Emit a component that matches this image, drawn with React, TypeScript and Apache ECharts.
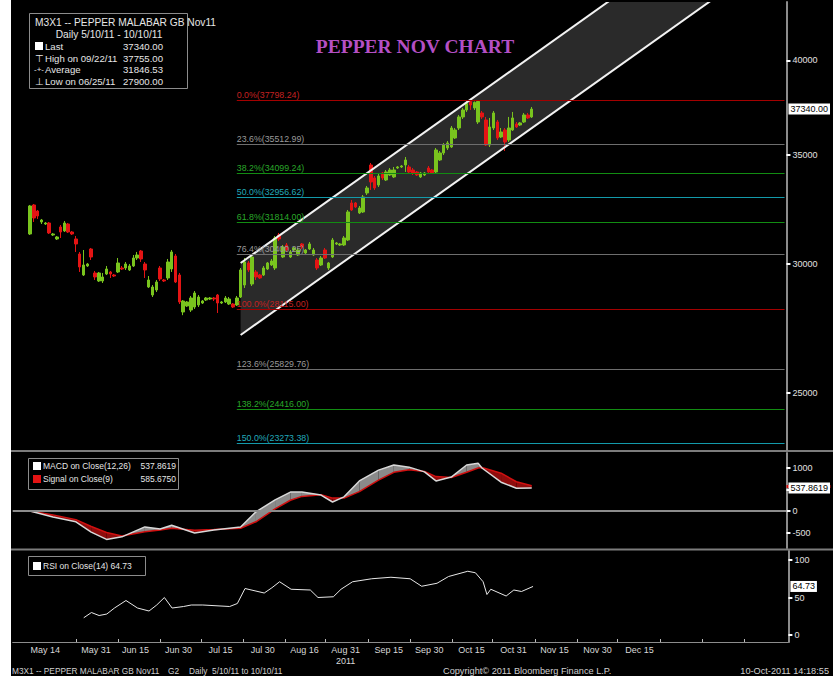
import React, { useEffect, useRef } from 'react';
import * as echarts from 'echarts';

// ---------- categories (Mon-Sat trading days) ----------
const AXIS_START_DATE = '2011-05-05';
const AXIS_DAY_COUNT = 202;
const FIRST_TRADE_DATE = '2011-05-10';

// ---------- OHLC data, 2011-05-10 .. 2011-10-10 ----------
const opens = [
  31294, 32605, 32329, 31830, 31740, 31785, 31250, 31074, 31606, 31428,
  31740, 31383, 31074, 30421, 29531, 29910, 30637, 29615, 29282, 29282,
  29573, 29657, 29531, 29657, 29825, 29825, 29741, 29910, 30250, 30551,
  29994, 29034, 28707, 28911, 29825, 29323, 29406, 29783, 30335, 29531,
  28026, 28264, 28105, 28224, 28304, 28384, 28505, 28545, 28586, 28707,
  28384, 28425, 28344, 28344, 28304, 28626, 29116, 30037, 29157, 29657,
  29531, 29531, 29783, 29952, 29825, 31250, 30292, 30811, 30292, 30594,
  30378, 30855, 30464, 30637, 30378, 30164, 29952, 30594, 29825, 30292,
  30855, 30811, 30811, 31030, 32698, 32698, 32238, 32284, 33163, 34502,
  33874, 33540, 34114, 33778, 34018, 33922, 34356, 34405, 34502, 34405,
  34259, 34163, 33922, 34018, 34356, 34259, 34163, 34747, 35093, 35342,
  35392, 35846, 36356, 36927, 37294, 37745, 37400, 36666, 37136, 36770,
  35492, 36356, 36666, 35896, 36253, 35744, 36253, 36563, 36511, 36666,
  37031, 36927,
];
const closes = [
  32559, 32011, 32102, 31920, 31785, 31339, 31294, 31162, 31383, 31785,
  31383, 31294, 30855, 29868, 29952, 29994, 30292, 29448, 29615, 29448,
  29783, 29573, 29489, 30037, 29783, 29994, 29910, 30250, 30378, 30207,
  29741, 29323, 29034, 29240, 29365, 29282, 30079, 30508, 29240, 28425,
  28465, 28425, 28586, 28789, 28626, 28465, 28586, 28586, 28545, 28384,
  28425, 28586, 28545, 28224, 28586, 29741, 30079, 29741, 30292, 29448,
  29406, 29825, 30037, 30122, 31118, 31074, 30724, 30594, 30508, 30681,
  30594, 30724, 30594, 30855, 30594, 29825, 30250, 30250, 30037, 31030,
  30899, 30855, 31118, 32284, 32375, 32513, 32467, 32976, 33398, 33683,
  33398, 33970, 33874, 34163, 34259, 34259, 34405, 34453, 34747, 34163,
  34114, 34018, 34114, 34114, 34163, 34114, 35242, 35093, 35492, 35593,
  36356, 36253, 36927, 37294, 37638, 37558, 37691, 37745, 36927, 35492,
  36408, 37136, 35846, 36151, 35643, 36356, 36875, 36408, 36615, 37031,
  36875, 37340,
];
const lows = [
  31250, 31830, 31966, 31740, 31695, 31294, 31206, 31030, 31118, 31383,
  31339, 31250, 30508, 29657, 29489, 29868, 30164, 29323, 29240, 29199,
  29531, 29406, 29448, 29615, 29741, 29741, 29699, 29868, 30164, 30079,
  29406, 28993, 28626, 28829, 29282, 29240, 29323, 29657, 29199, 28344,
  27900, 28224, 28026, 28145, 28224, 28344, 28465, 28505, 28465, 27986,
  28344, 28384, 28304, 28184, 28264, 28586, 28993, 29657, 29075, 29323,
  29365, 29489, 29741, 29910, 29741, 30986, 30250, 30508, 30250, 30551,
  30335, 30637, 30421, 30594, 30335, 29741, 29910, 30207, 29741, 30250,
  30811, 30768, 30768, 30986, 32329, 32467, 32193, 32238, 33069, 33304,
  33304, 33446, 33778, 33730, 33970, 33874, 34308, 34356, 34163, 34066,
  34018, 33970, 33874, 33970, 34114, 34066, 34066, 34698, 34994, 35242,
  35342, 35795, 36253, 36822, 37189, 37294, 37294, 36563, 36822, 35442,
  35392, 36253, 35744, 35846, 35192, 35643, 36202, 36356, 36459, 36615,
  36822, 36875,
];
const highs = [
  32605, 32650, 32375, 31966, 31830, 31830, 31339, 31206, 31695, 31875,
  31785, 31428, 31206, 30508, 30594, 30037, 30681, 29699, 29657, 29615,
  29910, 29699, 29573, 30250, 29910, 30079, 29994, 30378, 30508, 30594,
  30079, 29489, 29116, 29323, 29910, 29365, 30207, 30594, 30421, 29615,
  28505, 28465, 28667, 28870, 28707, 28505, 28626, 28626, 28626, 28748,
  28465, 28667, 28626, 28384, 28667, 29825, 30250, 30122, 30378, 29741,
  29573, 29910, 30079, 30207, 31206, 31339, 30811, 30899, 30594, 30724,
  30681, 30899, 30637, 30943, 30681, 30250, 30335, 30681, 30079, 31118,
  30943, 30899, 31206, 32375, 32836, 32744, 32559, 33069, 33493, 34600,
  33970, 34066, 34163, 34259, 34356, 34405, 34453, 34502, 34895, 34502,
  34356, 34211, 34163, 34163, 34453, 34308, 35342, 35192, 35593, 35694,
  36459, 36356, 37031, 37400, 37745, 37755, 37745, 37750, 37241, 36927,
  36875, 37241, 36770, 36356, 36356, 36927, 37189, 36666, 36666, 37136,
  37136, 37452,
];

// ---------- Fibonacci retracement ----------
const fibPercents = ['0.0%', '23.6%', '38.2%', '50.0%', '61.8%', '76.4%', '100.0%', '123.6%', '138.2%', '150.0%'];
const fibValues = [37798.24, 35512.99, 34099.24, 32956.62, 31814.0, 30400.25, 28115.0, 25829.76, 24416.0, 23273.38];
const FIB_START_DATE = '2011-07-12';

// ---------- trend channel (prices at its start date and at the axis end) ----------
const CHANNEL_START_DATE = '2011-07-13';
const channelUpper = [30037, 51895];
const channelLower = [27130, 46871];

// ---------- MACD (trading-day number from 2011-05-10) ----------
const macdDays = [0, 6, 12, 16, 20, 24, 30, 34, 37, 43, 48, 55, 59, 64, 68, 71, 76, 79, 82, 86, 91, 95, 99, 103, 106, 110, 114, 117, 118, 123, 127, 131];
const macdValues = [0, -140, -250, -490, -660, -600, -370, -420, -330, -510, -440, -370, -20, 260, 440, 440, 370, 210, 330, 700, 950, 1070, 1020, 910, 700, 790, 1070, 1110, 1000, 670, 530, 537.8619];
const signalValues = [0, -90, -200, -360, -500, -580, -480, -440, -400, -450, -430, -400, -250, 50, 250, 340, 380, 300, 300, 450, 720, 900, 960, 920, 800, 780, 900, 1000, 1010, 880, 680, 585.675];

// ---------- RSI(14) ----------
const rsiDays = [14, 16, 18, 20, 22, 25, 28, 31, 33, 35, 37, 40, 42, 45, 52, 54, 56, 61, 63, 65, 68, 73, 75, 79, 81, 84, 89, 94, 99, 102, 106, 109, 114, 116, 118, 119, 120, 124, 126, 128, 131];
const rsiValues = [23, 30, 26, 28, 36, 46, 36, 32, 40, 50, 36, 38, 40, 40, 38, 42, 62, 56, 63, 71, 61, 60, 50, 51, 61, 71, 75, 77, 75, 65, 69, 78, 85, 83, 71, 54, 61, 52, 60, 58, 64.73];

// ---------- axis labels (positions in trading-day slots of the axis) ----------
const mainTicks = [25000, 30000, 35000, 40000];
const mainRange = [23056, 43447];
const macdTicks = [-500, 0, 500, 1000];
const macdLabels = [-500, 0, 1000];
const macdRange = [-860, 1349];
const rsiTicks = [0, 50, 100];
const rsiRange = [-9.3, 112];
const xLabels = ['May 14', 'May 31', 'Jun 15', 'Jun 30', 'Jul 15', 'Jul 30', 'Aug 16', 'Aug 31', 'Sep 15', 'Sep 30', 'Oct 15', 'Oct 31', 'Nov 15', 'Nov 30', 'Dec 15'];
const xLabelSlots = [8.0, 21.2, 31.5, 42.7, 53.6, 64.6, 75.5, 86.2, 97.4, 108.0, 119.0, 129.9, 140.6, 151.8, 162.7];
const xTickSlots = [16, 27, 38, 48.5, 59.5, 70.5, 81, 92, 103, 114, 124.5, 135.5, 146.5, 157, 168, 179, 190];
const lastPrice = 37340.0;
const lastMacd = 537.8619;
const lastSignal = 585.675;
const lastRsi = 64.73;

function buildTradingDays(start: string, count: number): string[] {
  const out: string[] = [];
  const d = new Date(start + 'T00:00:00Z');
  while (out.length < count) {
    if (d.getUTCDay() !== 0) out.push(d.toISOString().slice(0, 10));
    d.setUTCDate(d.getUTCDate() + 1);
  }
  return out;
}

const FONT = 'Liberation Sans, Arial, sans-serif';
const fibLabelColors = ['#c42020', '#9a9a9a', '#2aa82a', '#22aabb', '#2aa82a', '#9a9a9a', '#c42020', '#9a9a9a', '#2aa82a', '#22aabb'];
const fibLineColors = ['#a40000', '#6e6e6e', '#128c12', '#139aaa', '#128c12', '#6e6e6e', '#a40000', '#6e6e6e', '#128c12', '#139aaa'];

const txt = (x: number, y: number, text: string, size: number, extra: any = {}) => ({
  type: 'text',
  x,
  y,
  silent: true,
  style: { text, fill: '#e6e6e6', font: size + 'px ' + FONT, verticalAlign: 'middle', ...extra },
});

export default function App() {
  const ref = useRef<HTMLDivElement>(null);
  useEffect(() => {
    if (!ref.current) return;
    const chart = echarts.init(ref.current, null, { renderer: 'svg' });
    const cats = buildTradingDays(AXIS_START_DATE, AXIS_DAY_COUNT);
    const off = cats.indexOf(FIRST_TRADE_DATE);
    const L = Math.log;

    const candleData = cats.map((_, c) => {
      const i = c - off;
      if (i < 0 || i >= closes.length) return '-';
      return [L(opens[i]), L(closes[i]), L(lows[i]), L(highs[i])];
    });

    const fibStart = cats.indexOf(FIB_START_DATE);
    const lastCat = cats.length - 1;
    const fibLines = fibValues.map((v, k) => [
      {
        coord: [fibStart, L(v)],
        lineStyle: { color: fibLineColors[k], width: 1, type: 'solid' },
        label: {
          show: true,
          position: 'insideStartTop',
          formatter: fibPercents[k] + '(' + v.toFixed(2) + ')',
          color: fibLabelColors[k],
          fontSize: 8.8,
          fontFamily: FONT,
          distance: [0, 1],
        },
      },
      { coord: [lastCat, L(v)] },
    ]);

    const chS = cats.indexOf(CHANNEL_START_DATE);
    const chE = lastCat;
    const channelData = [[chS, L(channelUpper[0]), L(channelLower[0]), chE, L(channelUpper[1]), L(channelLower[1])]];

    const macdFillData = macdDays.map((d, i) => [off + d, macdValues[i], signalValues[i]]);

    const mainMin = L(mainRange[0]);
    const mainMax = L(mainRange[1]);

    const tagLabel = (bg: string, fg: string) => ({
      backgroundColor: bg,
      color: fg,
      fontSize: 9,
      fontFamily: FONT,
      padding: [1, 2, 1, 2],
      margin: 2,
    });

    const grids = [
      { left: 12.7, right: 44.6, top: 2, height: 448 },
      { left: 12.7, right: 44.6, top: 453, height: 95 },
      { left: 12.7, right: 44.6, top: 551, height: 91 },
    ];

    const catAxis = (g: number) => ({
      type: 'category',
      gridIndex: g,
      data: cats,
      boundaryGap: true,
      axisLine: { show: false, onZero: false },
      axisTick: { show: false },
      axisLabel: { show: false },
      splitLine: { show: false },
    });

    const axisLineStyle = { show: true, onZero: false, lineStyle: { color: '#8c8c8c', width: 2 } };
    const noLine = { show: false, onZero: false };

    const option: any = {
      animation: false,
      backgroundColor: '#000',
      textStyle: { fontFamily: FONT },
      grid: grids,
      xAxis: [
        catAxis(0),
        catAxis(1),
        catAxis(2),
        {
          // label axis in trading-day slot units, aligned with the category axes
          type: 'value',
          gridIndex: 2,
          min: -0.5,
          max: AXIS_DAY_COUNT - 0.5,
          position: 'bottom',
          axisLine: { show: true, onZero: false, lineStyle: { color: '#8c8c8c', width: 1 } },
          axisTick: {
            show: true,
            inside: true,
            length: 3,
            lineStyle: { color: '#bbb' },
            customValues: xTickSlots,
          },
          axisLabel: {
            customValues: xLabelSlots,
            formatter: (v: number) => {
              const k = xLabelSlots.indexOf(v);
              return xLabels[k] + (xLabels[k] === 'Aug 31' ? '\n2011' : '');
            },
            color: '#d8d8d8',
            fontSize: 9,
            lineHeight: 11,
            margin: 2,
          },
          splitLine: { show: false },
        },
      ],
      yAxis: [
        {
          type: 'value', gridIndex: 0, position: 'right', min: mainMin, max: mainMax,
          axisLine: axisLineStyle,
          axisTick: { show: true, length: 4, lineStyle: { color: '#fff', width: 2 }, customValues: mainTicks.map(L) },
          axisLabel: { customValues: mainTicks.map(L), formatter: (v: number) => String(Math.round(Math.exp(v))), color: '#e0e0e0', fontSize: 9, margin: 6 },
          splitLine: { show: false },
        },
        {
          type: 'value', gridIndex: 0, position: 'right', min: mainMin, max: mainMax,
          axisLine: noLine, axisTick: { show: false }, splitLine: { show: false },
          axisLabel: { customValues: [L(lastPrice)], formatter: (v: number) => (Math.round(Math.exp(v) * 100) / 100).toFixed(2), ...tagLabel('#fff', '#000') },
        },
        {
          type: 'value', gridIndex: 1, position: 'right', min: macdRange[0], max: macdRange[1],
          axisLine: axisLineStyle,
          axisTick: { show: true, length: 4, lineStyle: { color: '#fff', width: 2 }, customValues: macdTicks },
          axisLabel: { customValues: macdLabels, formatter: (v: number) => String(v), color: '#e0e0e0', fontSize: 9, margin: 6 },
          splitLine: { show: false },
        },
        {
          // signal tag: only its red edge shows behind the MACD tag
          type: 'value', gridIndex: 1, position: 'right', min: macdRange[0], max: macdRange[1],
          axisLine: noLine, splitLine: { show: false },
          axisTick: { show: true, length: 44, lineStyle: { color: '#d01010', width: 3 }, customValues: [lastSignal] },
          axisLabel: { show: false },
        },
        {
          type: 'value', gridIndex: 1, position: 'right', min: macdRange[0], max: macdRange[1],
          axisLine: noLine, axisTick: { show: false }, splitLine: { show: false },
          axisLabel: { customValues: [lastMacd], formatter: (v: number) => v.toFixed(4), ...tagLabel('#fff', '#000') },
        },
        {
          type: 'value', gridIndex: 2, position: 'right', min: rsiRange[0], max: rsiRange[1],
          axisLine: axisLineStyle,
          axisTick: { show: true, length: 4, lineStyle: { color: '#fff', width: 2 }, customValues: rsiTicks },
          axisLabel: { customValues: rsiTicks, formatter: (v: number) => String(v), color: '#e0e0e0', fontSize: 9, margin: 6 },
          splitLine: { show: false },
        },
        {
          type: 'value', gridIndex: 2, position: 'right', min: rsiRange[0], max: rsiRange[1],
          axisLine: noLine, axisTick: { show: false }, splitLine: { show: false },
          axisLabel: { customValues: [lastRsi], formatter: (v: number) => v.toFixed(2), ...tagLabel('#fff', '#000') },
        },
      ],
      series: [
        {
          type: 'custom', name: 'channelFill', xAxisIndex: 0, yAxisIndex: 0, z: 1, silent: true, clip: true,
          data: channelData,
          renderItem: (_p: any, api: any) => {
            const a = api.coord([api.value(0), api.value(1)]);
            const b = api.coord([api.value(3), api.value(4)]);
            const c = api.coord([api.value(3), api.value(5)]);
            const d = api.coord([api.value(0), api.value(2)]);
            return { type: 'polygon', shape: { points: [a, b, c, d] }, style: { fill: '#2a2a2a' } };
          },
        },
        {
          type: 'custom', name: 'channelLines', xAxisIndex: 0, yAxisIndex: 0, z: 4, silent: true, clip: true,
          data: channelData,
          renderItem: (_p: any, api: any) => {
            const a = api.coord([api.value(0), api.value(1)]);
            const b = api.coord([api.value(3), api.value(4)]);
            const c = api.coord([api.value(3), api.value(5)]);
            const d = api.coord([api.value(0), api.value(2)]);
            const st = { stroke: '#f2f2f2', lineWidth: 2 };
            return {
              type: 'group',
              children: [
                { type: 'line', shape: { x1: a[0], y1: a[1], x2: b[0], y2: b[1] }, style: st },
                { type: 'line', shape: { x1: d[0], y1: d[1], x2: c[0], y2: c[1] }, style: st },
              ],
            };
          },
        },
        {
          type: 'candlestick', name: 'M3X1', xAxisIndex: 0, yAxisIndex: 0, z: 3, silent: true,
          barWidth: 3,
          data: candleData,
          itemStyle: { color: '#79c41e', color0: '#e41414', borderColor: '#79c41e', borderColor0: '#e41414', borderWidth: 1 },
          markLine: { silent: true, symbol: 'none', animation: false, data: fibLines },
        },
        {
          type: 'custom', name: 'macdFill', xAxisIndex: 1, yAxisIndex: 2, z: 1, silent: true,
          data: macdFillData,
          renderItem: (p: any, api: any) => {
            const i = p.dataIndex;
            if (i >= macdFillData.length - 1) return null;
            const [x0, m0, s0] = macdFillData[i];
            const [x1, m1, s1] = macdFillData[i + 1];
            const P = (x: number, v: number) => api.coord([x, v]);
            const col = (d: number) => (d >= 0 ? '#8a8a8a' : '#8e0c0c');
            const d0 = m0 - s0;
            const d1 = m1 - s1;
            if (d0 * d1 >= 0) {
              return { type: 'polygon', shape: { points: [P(x0, m0), P(x1, m1), P(x1, s1), P(x0, s0)] }, style: { fill: col(d0 + d1) } };
            }
            const t = d0 / (d0 - d1);
            const xc = x0 + t * (x1 - x0);
            const vc = m0 + t * (m1 - m0);
            return {
              type: 'group',
              children: [
                { type: 'polygon', shape: { points: [P(x0, m0), P(xc, vc), P(x0, s0)] }, style: { fill: col(d0) } },
                { type: 'polygon', shape: { points: [P(xc, vc), P(x1, m1), P(x1, s1)] }, style: { fill: col(d1) } },
              ],
            };
          },
        },
        {
          type: 'line', name: 'Signal', xAxisIndex: 1, yAxisIndex: 2, z: 2, silent: true, showSymbol: false,
          data: macdDays.map((d, i) => [cats[off + d], signalValues[i]]),
          lineStyle: { color: '#d01010', width: 1.5 },
          markLine: {
            silent: true, symbol: 'none', label: { show: false },
            lineStyle: { color: '#8c8c8c', width: 2, type: 'solid' },
            data: [{ yAxis: 0 }],
          },
        },
        {
          type: 'line', name: 'MACD', xAxisIndex: 1, yAxisIndex: 2, z: 3, silent: true, showSymbol: false,
          data: macdDays.map((d, i) => [cats[off + d], macdValues[i]]),
          lineStyle: { color: '#d8d8d8', width: 1.5 },
        },
        {
          type: 'line', name: 'RSI', xAxisIndex: 2, yAxisIndex: 5, z: 3, silent: true, showSymbol: false,
          data: rsiDays.map((d, i) => [cats[off + d], rsiValues[i]]),
          lineStyle: { color: '#e8e8e8', width: 1 },
        },
      ],
      graphic: [
        { type: 'rect', shape: { x: 0, y: 0, width: 11, height: 676 }, style: { fill: '#fff' }, silent: true },
        { type: 'line', shape: { x1: 11, y1: 451, x2: 833, y2: 451 }, style: { stroke: '#7c7c7c', lineWidth: 2 }, silent: true },
        { type: 'line', shape: { x1: 11, y1: 549.5, x2: 833, y2: 549.5 }, style: { stroke: '#7c7c7c', lineWidth: 2 }, silent: true },
        // title
        { type: 'text', x: 415, y: 46, style: { text: 'PEPPER NOV CHART', fill: '#b44fc4', font: 'bold 19.5px "Liberation Serif", serif', align: 'center', verticalAlign: 'middle' }, silent: true },
        // main legend
        { type: 'rect', shape: { x: 29.5, y: 13.5, width: 158, height: 75 }, style: { fill: '#000', stroke: '#8c8c8c', lineWidth: 1 }, silent: true },
        txt(35, 22, 'M3X1 -- PEPPER MALABAR GB Nov11', 10.2),
        txt(109, 34, 'Daily 5/10/11 - 10/10/11', 10.2, { align: 'center' }),
        { type: 'rect', shape: { x: 35, y: 42, width: 8, height: 8 }, style: { fill: '#fff' }, silent: true },
        txt(45, 46, 'Last', 9.6),
        txt(123, 46, '37340.00', 9.6),
        txt(39, 58, '⊤', 9.6, { align: 'center' }),
        txt(45, 58, 'High on 09/22/11', 9.6),
        txt(123, 58, '37755.00', 9.6),
        txt(39, 69, '-+-', 8, { align: 'center' }),
        txt(45, 69, 'Average', 9.6),
        txt(123, 69, '31846.53', 9.6),
        txt(39, 81, '⊥', 9.6, { align: 'center' }),
        txt(45, 81, 'Low on 06/25/11', 9.6),
        txt(123, 81, '27900.00', 9.6),
        // MACD legend
        { type: 'rect', shape: { x: 28.5, y: 458.5, width: 150, height: 31 }, style: { fill: '#000', stroke: '#8c8c8c', lineWidth: 1 }, silent: true },
        { type: 'rect', shape: { x: 33, y: 462, width: 8, height: 8 }, style: { fill: '#fff' }, silent: true },
        { type: 'rect', shape: { x: 33, y: 475, width: 8, height: 8 }, style: { fill: '#e41414' }, silent: true },
        txt(43, 466, 'MACD on Close(12,26)', 8.5),
        txt(176, 466, '537.8619', 8.5, { align: 'right' }),
        txt(43, 479, 'Signal on Close(9)', 8.5),
        txt(176, 479, '585.6750', 8.5, { align: 'right' }),
        // RSI legend
        { type: 'rect', shape: { x: 28.5, y: 556.5, width: 117, height: 19 }, style: { fill: '#000', stroke: '#8c8c8c', lineWidth: 1 }, silent: true },
        { type: 'rect', shape: { x: 33, y: 562, width: 8, height: 8 }, style: { fill: '#fff' }, silent: true },
        txt(43, 566, 'RSI on Close(14) 64.73', 8.5),
        // footer
        txt(12, 671, 'M3X1 -- PEPPER MALABAR GB Nov11', 8.3, { fill: '#d0d0d0' }),
        txt(168, 671, 'G2', 8.3, { fill: '#d0d0d0' }),
        txt(189, 671, 'Daily  5/10/11 to 10/10/11', 8.3, { fill: '#d0d0d0' }),
        txt(443, 671, 'Copyright© 2011 Bloomberg Finance L.P.', 9.2, { fill: '#d0d0d0' }),
        txt(829, 671, '10-Oct-2011 14:18:55', 9.2, { fill: '#d0d0d0', align: 'right' }),
      ],
    };
    chart.setOption(option);
    return () => chart.dispose();
  }, []);
  return <div ref={ref} style={{ position: 'absolute', left: 0, top: 0, width: 833, height: 676 }} />;
}
